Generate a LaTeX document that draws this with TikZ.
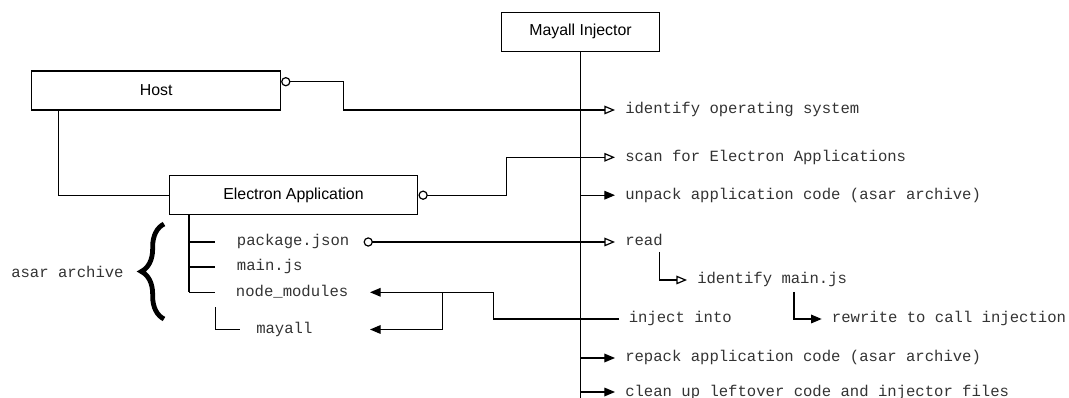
\documentclass[tikz,border=0pt]{standalone}
\usepackage{fontspec}
\setmainfont{Liberation Sans}
\setmonofont{Liberation Mono}
\usetikzlibrary{arrows.meta}
\usetikzlibrary{decorations.pathreplacing}
\usetikzlibrary{positioning}

\begin{document}
\begin{tikzpicture}[x=0.75pt, y=-0.75pt,
            entity/.style={draw, line width=0.9pt, minimum width=186.5pt, minimum height=29.3pt, inner sep=0pt, font=\fontsize{11.9}{14}\selectfont},
            msg/.style={anchor=west, inner sep=0pt, text height=8pt, text depth=2pt, text=black!80, font=\ttfamily\fontsize{11.7}{14}\selectfont},
            conn/.style={line width=0.9pt},
            msgline/.style={conn, shorten >=7.5pt},
            opentip/.tip={Triangle[open, length=8pt, width=6.5pt]},
            filltip/.tip={Triangle[length=8pt, width=6.5pt]},
            porttip/.tip={Circle[open, length=7pt]},
            archbrace/.style={line width=3.6pt, decorate, decoration={brace, amplitude=17pt}}
        ]
        \useasboundingbox (0,0) rectangle (1069,398);
        \node[entity] (host) at (156.2,90.5) {Host};
        \node[entity] (app) at (293.5,195.2) {Electron Application};
        \node[entity, minimum width=118pt] (injector) at (580.5,31.8) {Mayall Injector};
        \coordinate (lifeend) at (580.5,398);
        \draw[conn] (injector.south) -- (lifeend);

        \node[msg] (os) at (625,110) {identify operating system};
        \node[msg] (scan) at (625,157.3) {scan for Electron Applications};
        \node[msg] (unpack) at (625,195.2) {unpack application code (asar archive)};
        \node[msg] (read) at (625,242) {read};
        \node[msg] (idmain) at (697,280) {identify main.js};
        \node[msg] (inject) at (628.5,319) {inject into};
        \node[msg] (rewrite) at (831.7,319) {rewrite to call injection};
        \node[msg] (repack) at (625,358) {repack application code (asar archive)};
        \node[msg] (cleanup) at (625,392) {clean up leftover code and injector files};

        \node[msg] (pkg) at (236.7,242) {package.json};
        \node[msg] (mainjs) at (236.7,267) {main.js};
        \node[msg] (modules) at (235.7,292.3) {node\_modules};
        \node[msg] (mayall) at (256,329.5) {mayall};
        \node[msg] (asar) at (11,274) {asar archive};

        \draw[archbrace] (164,319) -- (164,224);

        \draw[conn] (host.south -| 58.3,0) |- (app.west);
        \draw[msgline, porttip-opentip] (host.east |- 0,81.7) -| (343.3,110) -- (os.west);
        \draw[msgline, porttip-opentip] (app.east) -| (506.7,157.3) -- (scan.west);
        \foreach \m in {unpack, repack, cleanup}
            \draw[msgline, -filltip] (\m.west -| injector.south) -- (\m.west);
        \draw[msgline, porttip-opentip, shorten <=10.5pt] (pkg.east) -- (read.west);

        \coordinate (readout) at (659.3,252);
        \coordinate (idout) at (794,292);
        \draw[msgline, -opentip] (readout) |- (idmain.west);
        \draw[msgline, -filltip] (idout) |- (rewrite.west);

        \coordinate (modin) at (370,292.3);
        \coordinate (split) at (442.7,292.3);
        \coordinate (mayin) at (370,329.5);
        \draw[conn, -filltip, shorten <=7pt] (inject.west) -| (493.7,292.3) -- (modin);
        \draw[conn, -filltip] (split) |- (mayin);

        \coordinate (sub) at (215.7,307.3);
        \draw[conn] (app.south -| 189,0) -- (189,0 |- modules.west);
        \foreach \f in {pkg, mainjs, modules}
            \draw[conn] (189,0 |- \f.west) -- ++(26,0);
        \draw[conn] (sub) |- ([xshift=-12pt]mayall.west);
\end{tikzpicture}
\end{document}
